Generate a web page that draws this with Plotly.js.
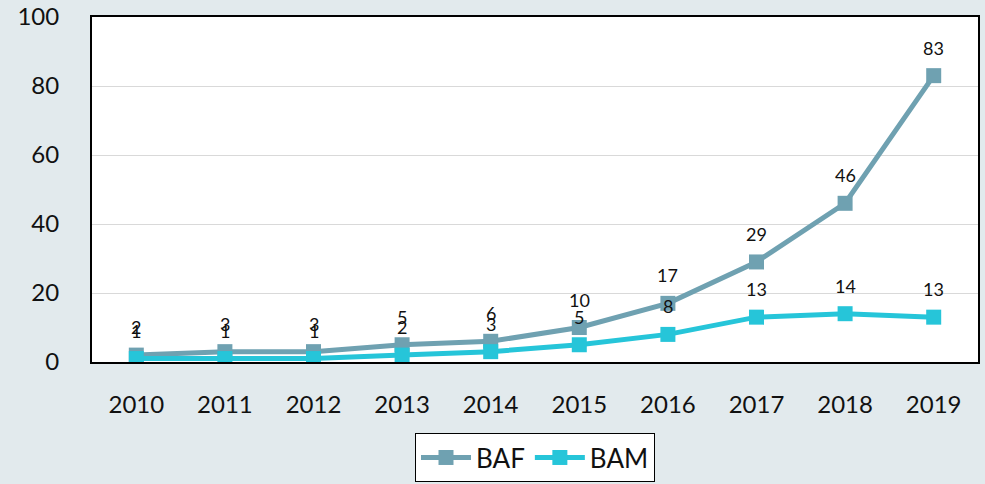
<!DOCTYPE html>
<html>
<head>
<meta charset="utf-8">
<script src="https://cdn.plot.ly/plotly-3.0.1.min.js"></script>
<style>html,body{margin:0;padding:0;background:#e2eaed;}#chart{width:985px;height:484px;}</style>
</head>
<body>
<div id="chart"></div>
<script>
const years = ['2010','2011','2012','2013','2014','2015','2016','2017','2018','2019'];
const baf = [2,3,3,5,6,10,17,29,46,83];
const bam = [1,1,1,2,3,5,8,13,14,13];
const yTicks = [0,20,40,60,80,100];

const colBAF = '#6fa1b1';
const colBAM = '#26c5d9';
const font = 'Lato, "Open Sans", "Liberation Sans", sans-serif';

function trace(name, vals, color){
  return {
    type:'scatter', mode:'lines+markers', name:name,
    x:years, y:vals,
    line:{color:color, width:5},
    marker:{symbol:'square', size:15, color:color}
  };
}
const annotations = [];
[baf, bam].forEach(vals=>{
  vals.forEach((v,i)=>{
    annotations.push({xref:'x', yref:'y', x:i, y:v, text:String(v), showarrow:false,
      yshift:28, font:{family:font, size:18, color:'#111'}});
  });
});

const data = [trace('BAF', baf, colBAF), trace('BAM', bam, colBAM)];
const layout = {
  width:985, height:484,
  paper_bgcolor:'#e2eaed', plot_bgcolor:'#ffffff',
  margin:{l:92, r:7, t:17, b:122, autoexpand:false},
  showlegend:true,
  legend:{orientation:'h', x:0.5, xanchor:'center', y:-0.206, yanchor:'top',
    bgcolor:'#ffffff', bordercolor:'#000', borderwidth:1, itemwidth:50,
    font:{family:font, size:26, color:'#111'}},
  xaxis:{type:'category', range:[-0.5,9.5], showgrid:false, zeroline:false,
    showline:true, linecolor:'#000', linewidth:2, mirror:true,
    ticks:'', tickfont:{family:font, size:24, color:'#111'}, ticklabelstandoff:20},
  yaxis:{range:[0,100], tickvals:yTicks, showgrid:true, gridcolor:'#d9d9d9', gridwidth:1,
    zeroline:false, showline:true, linecolor:'#000', linewidth:2, mirror:true,
    ticks:'', tickfont:{family:font, size:24, color:'#111'}, ticklabelstandoff:26},
  annotations:annotations,
  font:{family:font}
};
Plotly.newPlot('chart', data, layout, {displayModeBar:false, staticPlot:true});
</script>
</body>
</html>
